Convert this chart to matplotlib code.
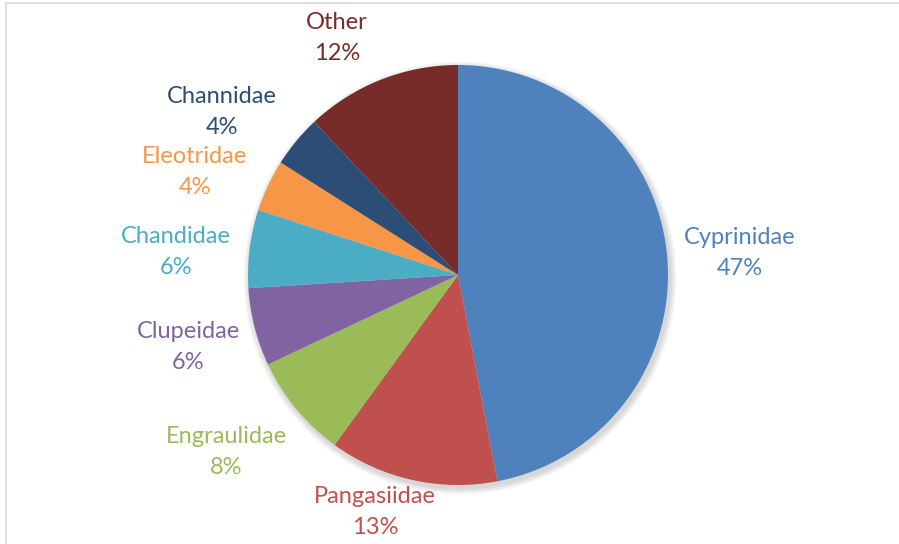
import matplotlib.pyplot as plt
from matplotlib.patches import Rectangle, Circle

families = ["Cyprinidae", "Pangasiidae", "Engraulidae", "Clupeidae",
            "Chandidae", "Eleotridae", "Channidae", "Other"]
shares = [47, 13, 8, 6, 6, 4, 4, 12]
colors = ["#4F81BD", "#C0504D", "#9BBB59", "#8064A2",
          "#4BACC6", "#F79646", "#2C4D75", "#772C2A"]

# label block centres, in pixels from the top-left corner
label_xy = [(740, 253), (375, 512), (226, 452), (188, 347),
            (176, 252), (195, 172), (222, 112), (337, 38)]

W, H = 899, 544
cx, cy, r = 458, 275, 210

fig = plt.figure(figsize=(W / 100, H / 100), dpi=100)
ax = fig.add_axes([0, 0, 1, 1])
ax.set_xlim(0, W)
ax.set_ylim(0, H)
ax.set_aspect("equal")
ax.axis("off")

# chart-area frame
ax.add_patch(Rectangle((6, -5), W, H - 3 + 5, fill=False,
                       edgecolor="#D9D9D9", linewidth=1.2))

# soft drop shadow under the pie
for k in range(8):
    ax.add_patch(Circle((cx + 2, H - cy - 3), r + 1 + k * 0.8,
                        color="black", alpha=0.018, linewidth=0, zorder=1))

ax.pie(shares, colors=colors, startangle=90, counterclock=False,
       center=(cx, H - cy), radius=r, frame=True,
       wedgeprops=dict(linewidth=0, zorder=2))
ax.set_xlim(0, W)
ax.set_ylim(0, H)
ax.axis("off")

for name, val, col, (lx, ly) in zip(families, shares, colors, label_xy):
    ax.text(lx, H - ly, f"{name}\n{val}%", ha="center", va="center",
            color=col, fontsize=17, family="Lato", linespacing=1.55,
            zorder=3)

fig.savefig("out.png", dpi=100)
